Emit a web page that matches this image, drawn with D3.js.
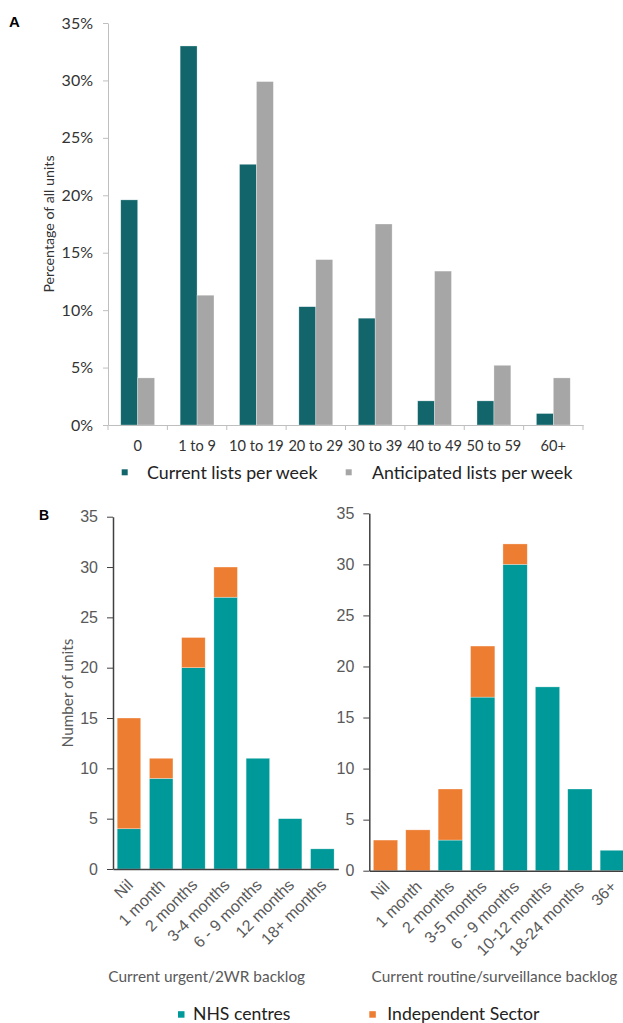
<!DOCTYPE html>
<html><head><meta charset="utf-8">
<script src="https://cdn.jsdelivr.net/npm/d3@7"></script>
<style>body{margin:0;background:#fff} svg{display:block}</style>
</head><body><svg id="c" width="623" height="1023"></svg>
<script>
// ---- Data ----
const topCats = ["0","1 to 9","10 to 19","20 to 29","30 to 39","40 to 49","50 to 59","60+"];
const currentLists = [19.6, 33.0, 22.7, 10.3, 9.3, 2.1, 2.1, 1.0];
const anticipatedLists = [4.1, 11.3, 29.9, 14.4, 17.5, 13.4, 5.2, 4.1];
const topYTicks = [0, 5, 10, 15, 20, 25, 30, 35];
const topSeries = ["Current lists per week", "Anticipated lists per week"];

const urgentCats = ["Nil","1 month","2 months","3-4 months","6 - 9 months","12 months","18+ months"];
const urgentNHS = [4, 9, 20, 27, 11, 5, 2];
const urgentIS  = [11, 2, 3, 3, 0, 0, 0];
const routineCats = ["Nil","1 month","2 months","3-5 months","6 - 9 months","10-12 months","18-24 months","36+"];
const routineNHS = [0, 0, 3, 17, 30, 18, 8, 2];
const routineIS  = [3, 4, 5, 5, 2, 0, 0, 0];
const bottomYTicks = [0, 5, 10, 15, 20, 25, 30, 35];
const bottomSeries = ["NHS centres", "Independent Sector"];

// ---- Styles ----
const CAL = "Lato, 'Open Sans', sans-serif";
const ARIAL = "'Liberation Sans', Arial, sans-serif";
const colTop = ["#12666B", "#A6A6A6"];
const colBot = ["#009999", "#ED7D31"];

const svg = d3.select("#c");

// ================= Panel A =================
const yA = d3.scaleLinear().domain([0, 35]).range([425, 23]);
const xA = d3.scaleBand().domain(topCats).range([108, 583]).paddingInner(0.43).paddingOuter(0.215);
const sA = d3.scaleBand().domain([0, 1]).range([0, xA.bandwidth()]);

const gA = svg.append("g");
topCats.forEach((c, i) => {
  [currentLists[i], anticipatedLists[i]].forEach((v, s) => {
    gA.append("rect")
      .attr("x", xA(c) + sA(s)).attr("width", sA.bandwidth())
      .attr("y", yA(v)).attr("height", yA(0) - yA(v))
      .attr("fill", colTop[s]).attr("stroke", "#fff").attr("stroke-opacity", 0.5).attr("stroke-width", 0.6);
  });
});

const axYA = svg.append("g").attr("transform", "translate(108,0)")
  .call(d3.axisLeft(yA).tickValues(topYTicks).tickFormat(d => d + "%").tickSize(5).tickSizeOuter(0).tickPadding(10));
axYA.select(".domain").attr("stroke", "#BFBFBF");
axYA.selectAll(".tick line").attr("stroke", "#BFBFBF");
axYA.selectAll("text").attr("font-family", CAL).attr("font-size", 16).attr("fill", "#333");

const axXA = svg.append("g").attr("transform", "translate(0,425)")
  .call(d3.axisBottom(xA).tickSize(0).tickSizeOuter(0).tickPadding(16));
axXA.select(".domain").attr("stroke", "#BFBFBF");
axXA.selectAll("text").attr("font-family", CAL).attr("font-size", 14.6).attr("fill", "#333");
d3.range(topCats.length + 1).forEach(i => {
  const x = xA.range()[0] + i * xA.step();
  axXA.append("line").attr("x1", x).attr("x2", x).attr("y1", 0).attr("y2", 5).attr("stroke", "#BFBFBF");
});

svg.append("text").attr("transform", "translate(53.5,224) rotate(-90)")
  .attr("text-anchor", "middle").attr("font-family", CAL).attr("font-size", 14.2).attr("fill", "#333")
  .text("Percentage of all units");

svg.append("text").attr("x", 9).attr("y", 27).attr("font-family", ARIAL).attr("font-weight", "bold")
  .attr("font-size", 15).text("A");

// legend A
[[121.7, 147], [345.7, 372]].forEach((p, s) => {
  svg.append("rect").attr("x", p[0]).attr("y", 469.3).attr("width", 6).attr("height", 6).attr("fill", colTop[s]);
  svg.append("text").attr("x", p[1]).attr("y", 479.3).attr("font-family", CAL).attr("font-size", 17.8)
    .attr("fill", "#222").text(topSeries[s]);
});

// ================= Panel B =================
function stackedPanel(cats, nhs, is, xRange, yRange, pInner, pOuter, title, titleX) {
  const y = d3.scaleLinear().domain([0, 35]).range(yRange);
  const x = d3.scaleBand().domain(cats).range(xRange).paddingInner(pInner).paddingOuter(pOuter);
  const rows = cats.map((c, i) => ({cat: c, nhs: nhs[i], is: is[i]}));
  const stacked = d3.stack().keys(["nhs", "is"])(rows);
  const g = svg.append("g");
  stacked.forEach((layer, s) => {
    layer.forEach(d => {
      if (d[1] - d[0] <= 0) return;
      g.append("rect")
        .attr("x", x(d.data.cat)).attr("width", x.bandwidth())
        .attr("y", y(d[1])).attr("height", y(d[0]) - y(d[1]))
        .attr("fill", colBot[s]).attr("stroke", "#fff").attr("stroke-opacity", 0.5).attr("stroke-width", 0.6);
    });
  });
  const ay = svg.append("g").attr("transform", `translate(${xRange[0]},0)`)
    .call(d3.axisLeft(y).tickValues(bottomYTicks).tickSize(6).tickSizeOuter(0).tickPadding(9));
  ay.select(".domain").attr("stroke", "#404040").attr("stroke-width", 1.5);
  ay.selectAll(".tick line").attr("stroke", "#404040");
  ay.selectAll("text").attr("font-family", ARIAL).attr("font-size", 16).attr("fill", "#595959");

  const ax = svg.append("g").attr("transform", `translate(0,${yRange[0]})`)
    .call(d3.axisBottom(x).tickSize(0).tickSizeOuter(0));
  ax.select(".domain").attr("stroke", "#404040").attr("stroke-width", 1.5);
  ax.selectAll("text").attr("font-family", ARIAL).attr("font-size", 16).attr("fill", "#595959")
    .attr("text-anchor", "end").attr("x", 0).attr("y", 0).attr("dy", "0.35em")
    .attr("transform", "translate(1,13) rotate(-45)");

  svg.append("text").attr("x", titleX).attr("y", 981.5).attr("text-anchor", "middle")
    .attr("font-family", CAL).attr("font-size", 15.4).attr("fill", "#595959").text(title);
}

stackedPanel(urgentCats, urgentNHS, urgentIS, [113, 338.3], [869, 516.7], 0.27, 0.13,
  "Current urgent/2WR backlog", 206.7);
stackedPanel(routineCats, routineNHS, routineIS, [369.3, 628.5], [870.7, 513.3], 0.25, 0.125,
  "Current routine/surveillance backlog", 494.5);

svg.append("text").attr("transform", "translate(72.5,693) rotate(-90)")
  .attr("text-anchor", "middle").attr("font-family", CAL).attr("font-size", 15.3).attr("fill", "#595959")
  .text("Number of units");

svg.append("text").attr("x", 39).attr("y", 520).attr("font-family", ARIAL).attr("font-weight", "bold")
  .attr("font-size", 14).text("B");

// legend B
[[178, 193], [369.3, 387.3]].forEach((p, s) => {
  svg.append("rect").attr("x", p[0]).attr("y", 1011.2).attr("width", 6.5).attr("height", 6.5).attr("fill", colBot[s]);
  svg.append("text").attr("x", p[1]).attr("y", 1019.5).attr("font-family", CAL).attr("font-size", 17.6)
    .attr("fill", "#222").text(bottomSeries[s]);
});
</script></body></html>
